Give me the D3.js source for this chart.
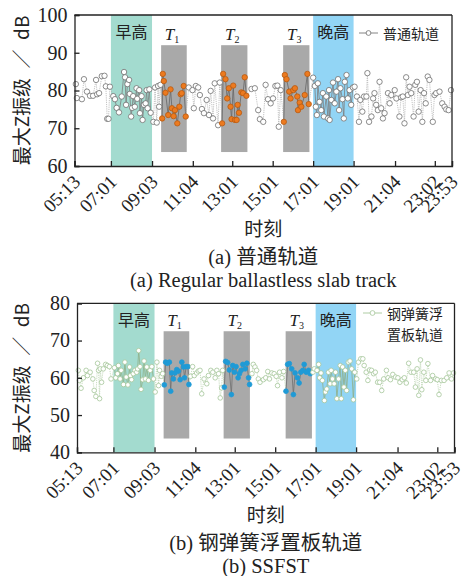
<!DOCTYPE html>
<html>
<head>
<meta charset="utf-8">
<script src="https://cdn.jsdelivr.net/npm/d3@7"></script>
<style>
  body { margin: 0; background: #fff; }
  svg text { font-family: "Liberation Serif", "Noto Sans CJK SC", serif; fill: #222; }
  .cjk { font-family: "Noto Sans CJK SC", sans-serif; }
</style>
</head>
<body>
<div id="chart"></div>
<script>
// tick labels on the time axis
var tickLabels = ["05:13", "07:01", "09:03", "11:04", "13:01", "15:01", "17:01", "19:01", "21:04", "23:02", "23:53"];

// rush hour bands and the three test windows (T1..T3)
var peakNames = ["早高", "晚高"];
var peakSpans = [["07:01", "09:03"], ["17:01", "19:01"]];
var windowNames = ["1", "2", "3"];
var windowSpans = [["09:30", "10:46"], ["12:28", "13:46"], ["15:32", "16:50"]];
var windowRangeA = [63.7, 92];
var windowRangeB = [43.7, 72.5];

// (a) regular slab track: minutes since midnight / max Z vibration level (dB)
var timesA = [317, 320, 335, 341, 350, 359, 368, 377, 380, 386, 394, 402, 406, 410, 414, 418,
  428, 433, 438, 445, 453, 460, 463, 466, 470, 475, 477, 481, 484, 487, 492, 497, 499, 505, 507, 512, 515, 519, 524, 527, 530, 535, 539,
  547, 552, 557, 561, 564, 568,
  573, 575, 578, 583, 591, 598, 602, 607, 611, 618, 624, 628, 631, 637, 643,
  652, 663, 667, 673, 680, 685, 691, 697, 705, 712, 717, 724, 729, 739, 744,
  751, 754, 761, 766, 771, 776, 779, 784, 789, 794, 797, 801, 808, 813, 818, 823,
  838, 848, 858, 863, 873, 880, 887, 895, 902, 909, 915, 919, 925,
  934, 937, 942, 950, 954, 962, 967, 974, 976, 981, 986, 996, 1004, 1008,
  1021, 1026, 1029, 1032, 1035, 1040, 1045, 1050, 1053, 1060, 1065, 1068, 1070, 1075, 1080, 1085, 1090, 1095, 1098, 1102, 1108, 1112, 1115, 1120, 1124, 1129, 1134, 1139,
  1144, 1151, 1157, 1161, 1167, 1172, 1179, 1182, 1187, 1194, 1199, 1203, 1208, 1213, 1218, 1223, 1228, 1233, 1243, 1248, 1253, 1263, 1268, 1277, 1282,
  1287, 1292, 1297, 1302, 1307, 1312, 1319, 1324, 1329, 1334, 1340, 1345, 1350, 1355, 1361, 1366, 1376, 1381, 1386, 1396, 1404, 1411, 1416, 1423, 1430];
var valuesA = [81.7, 78.0, 77.7, 83.0, 79.7, 78.6, 78.6, 82.8, 79.0, 79.3, 83.8, 83.9, 81.1, 72.5, 72.5, 81.0,
  78.5, 77.7, 75.4, 74.2, 78.4, 84.9, 83.5, 76.2, 81.7, 82.8, 79.1, 73.1, 75.4, 78.5, 75.7, 80.6, 77.8, 80.1, 74.0, 78.5, 72.2, 76.2, 76.6, 80.1, 75.3, 80.3, 74.1,
  71.7, 80.8, 71.5, 81.2, 75.7, 81.5,
  72.6, 84.4, 82.5, 79.4, 73.5, 80.3, 75.3, 73.2, 74.8, 71.3, 75.7, 79.0, 79.3, 81.2, 73.1,
  80.8, 80.1, 75.3, 81.2, 80.8, 78.8, 75.1, 74.0, 77.5, 73.5, 79.9, 72.6, 81.9, 70.8, 82.1,
  71.3, 84.4, 83.0, 77.9, 80.6, 75.7, 72.4, 81.3, 72.2, 72.2, 76.2, 74.1, 79.5, 79.3, 83.5, 78.6,
  80.4, 80.6, 74.8, 72.4, 71.7, 81.5, 77.7, 76.6, 77.9, 81.2, 81.3, 70.4, 80.1,
  71.7, 84.1, 83.0, 79.7, 77.9, 80.1, 80.6, 78.4, 74.8, 76.8, 75.7, 78.8, 84.4, 76.4,
  83.4, 81.2, 75.7, 73.5, 81.9, 77.0, 74.8, 79.3, 73.1, 78.4, 72.6, 80.1, 72.2, 77.5, 82.1, 76.6, 79.7, 83.0, 74.8, 80.6, 77.7, 72.6, 82.3, 84.1, 77.9, 80.1, 76.2, 80.8,
  81.0, 78.4, 71.7, 77.5, 74.4, 78.4, 78.4, 84.6, 71.7, 73.1, 77.9, 79.3, 76.2, 74.8, 82.3, 75.3, 72.6, 74.0, 79.3, 76.6, 78.8, 80.1, 77.9, 73.1, 78.2,
  78.4, 71.3, 83.5, 78.8, 81.0, 79.3, 73.1, 81.5, 82.3, 74.4, 80.1, 71.7, 79.3, 76.6, 83.7, 82.8, 71.7, 78.8, 79.3, 79.7, 76.6, 75.7, 75.0, 74.8, 80.1];

// (b) steel spring floating slab track
var timesB = [317, 320, 325, 332, 340, 344, 352, 360, 364, 369, 374, 377, 380, 382, 386, 391, 398, 403, 409, 414,
  424, 428, 433, 436, 441, 444, 451, 455, 459, 464, 469, 472, 475, 480, 485, 490, 493, 496, 500, 503, 508, 512, 516, 520, 525, 530, 535, 540,
  545, 550, 555, 558, 563, 567,
  572, 576, 581, 587, 591, 594, 599, 604, 609, 614, 619, 624, 629, 632, 637, 642, 645,
  650, 656, 661, 668, 673, 678, 683, 690, 698, 703, 710, 716, 723, 728, 733, 738, 742, 745,
  750, 754, 760, 765, 771, 775, 780, 785, 791, 795, 800, 805, 812, 817, 822, 825,
  832, 836, 841, 846, 851, 856, 866, 873, 879, 884, 891, 898, 904, 908, 914, 921, 926,
  933, 938, 943, 950, 955, 960, 967, 972, 977, 983, 987, 993, 1000, 1005,
  1013, 1017,
  1025, 1030, 1033, 1037, 1041, 1047, 1050, 1054, 1059, 1064, 1067, 1071, 1076, 1080, 1084, 1089, 1094, 1097, 1101, 1105, 1109, 1113, 1118, 1123, 1128, 1133, 1137,
  1143, 1148, 1155, 1161, 1165, 1171, 1176, 1181, 1187, 1193, 1198, 1205, 1211, 1217, 1223, 1231, 1236, 1243, 1250, 1258, 1265, 1271, 1278, 1284, 1290,
  1297, 1304, 1312, 1317, 1322, 1327, 1332, 1336, 1342, 1348, 1354, 1362, 1368, 1377, 1382, 1387, 1394, 1402, 1410, 1417, 1424, 1430];
var valuesB = [62.0, 59.3, 57.2, 60.0, 62.0, 60.6, 61.5, 59.7, 56.6, 55.0, 63.9, 62.0, 54.4, 62.4, 58.8, 62.4, 63.6, 63.3, 63.0, 59.7,
  62.7, 60.0, 61.1, 63.3, 59.7, 62.0, 58.2, 64.2, 60.2, 58.1, 62.9, 60.6, 59.5, 61.1, 62.0, 61.5, 62.4, 67.3, 63.0, 56.9, 59.5, 64.5, 59.7, 62.9, 59.3, 62.0, 63.0, 59.7,
  56.2, 64.2, 57.9, 62.0, 60.4, 61.1,
  58.1, 64.2, 63.9, 64.2, 56.4, 61.3, 59.7, 61.3, 62.2, 61.8, 59.5, 64.2, 62.9, 60.0, 63.0, 63.0, 58.2,
  60.4, 63.0, 60.6, 61.3, 61.8, 62.0, 55.7, 59.7, 58.4, 60.6, 62.0, 61.5, 60.0, 62.0, 61.1, 54.6, 57.3, 62.0,
  57.5, 64.4, 64.1, 62.1, 55.5, 63.3, 61.5, 63.0, 60.0, 61.1, 62.0, 63.6, 62.4, 63.9, 60.0, 58.2,
  61.1, 63.6, 62.9, 62.0, 59.7, 58.8, 59.5, 60.0, 61.7, 59.7, 61.3, 61.1, 60.4, 57.9, 61.5, 60.0, 61.7,
  56.4, 63.6, 63.8, 62.4, 55.5, 61.3, 60.0, 58.6, 61.5, 62.0, 63.6, 61.5, 62.0, 61.1,
  61.5, 62.4,
  62.0, 63.6, 60.0, 61.3, 59.3, 53.9, 56.2, 57.0, 61.5, 58.4, 62.0, 59.7, 58.4, 61.5, 54.4, 59.7, 63.3, 54.4, 62.9, 57.5, 62.0, 56.6, 64.2, 64.5, 62.4, 54.1, 61.5,
  59.7, 64.2, 65.1, 65.1, 63.3, 61.5, 59.3, 62.1, 62.0, 61.1, 61.5, 58.8, 58.8, 56.6, 59.7, 62.0, 60.0, 59.5, 60.9, 60.2, 60.0, 58.8, 59.5, 60.0, 58.6,
  63.9, 61.5, 61.5, 57.5, 62.4, 55.3, 64.8, 56.8, 61.5, 59.3, 63.8, 59.3, 60.6, 59.7, 59.5, 55.5, 59.3, 59.3, 60.0, 61.3, 59.7, 61.3];

function toMin(s) {
  var p = s.split(":");
  return +p[0] * 60 + +p[1];
}

var w = 474, h = 576;
var svg = d3.select("#chart").append("svg").attr("width", w).attr("height", h);

function drawPanel(cfg) {
  var x = d3.scaleLinear().domain([toMin(tickLabels[0]), toMin(tickLabels[tickLabels.length - 1])])
    .range([cfg.left, cfg.right]);
  var y = d3.scaleLinear().domain(cfg.yDomain).range([cfg.bottom, cfg.top]);
  var g = svg.append("g");

  // rush hour bands
  g.selectAll("rect.peak").data(peakSpans).enter().append("rect")
    .attr("x", function(d) { return x(toMin(d[0])); })
    .attr("y", cfg.top)
    .attr("width", function(d) { return x(toMin(d[1])) - x(toMin(d[0])); })
    .attr("height", cfg.bottom - cfg.top)
    .attr("fill", function(d, i) { return i == 0 ? "#a3dbcf" : "#92d5f5"; });

  // test windows
  g.selectAll("rect.win").data(windowSpans).enter().append("rect")
    .attr("x", function(d) { return x(toMin(d[0])); })
    .attr("y", y(cfg.winRange[1]))
    .attr("width", function(d) { return x(toMin(d[1])) - x(toMin(d[0])); })
    .attr("height", y(cfg.winRange[0]) - y(cfg.winRange[1]))
    .attr("fill", "#a9a9a9");

  var pts = cfg.times.map(function(t, i) {
    var inPeak = peakSpans.some(function(s) { return t >= toMin(s[0]) && t <= toMin(s[1]); });
    var inWin = windowSpans.some(function(s) { return t >= toMin(s[0]) && t <= toMin(s[1]); });
    return { t: t, v: cfg.values[i], peak: inPeak, win: inWin };
  });

  var segs = d3.pairs(pts);
  g.selectAll("line.seg").data(segs).enter().append("line")
    .attr("x1", function(d) { return x(d[0].t); })
    .attr("y1", function(d) { return y(d[0].v); })
    .attr("x2", function(d) { return x(d[1].t); })
    .attr("y2", function(d) { return y(d[1].v); })
    .attr("stroke", function(d) {
      if (d[0].win && d[1].win) return cfg.winLine;
      if (d[0].peak && d[1].peak) return cfg.peakLine;
      return cfg.line;
    })
    .attr("stroke-width", 0.8)
    .attr("stroke-dasharray", function(d) {
      return (d[0].win && d[1].win) || (d[0].peak && d[1].peak) ? null : "1.2,1";
    });

  g.selectAll("circle.pt").data(pts).enter().append("circle")
    .attr("cx", function(d) { return x(d.t); })
    .attr("cy", function(d) { return y(d.v); })
    .attr("r", function(d) { return d.win ? cfg.rWin : cfg.r; })
    .attr("fill", function(d) { return d.win ? cfg.winFill : "#fff"; })
    .attr("stroke", function(d) { return d.win ? cfg.winStroke : cfg.stroke; })
    .attr("stroke-width", 0.8);

  // band labels
  g.selectAll("text.peak").data(peakNames).enter().append("text")
    .attr("class", "cjk")
    .attr("x", function(d, i) { return (x(toMin(peakSpans[i][0])) + x(toMin(peakSpans[i][1]))) / 2; })
    .attr("y", cfg.top + 23)
    .attr("text-anchor", "middle")
    .attr("font-size", "16px")
    .text(function(d) { return d; });

  var tl = g.selectAll("text.win").data(windowNames).enter().append("text")
    .attr("x", function(d, i) { return (x(toMin(windowSpans[i][0])) + x(toMin(windowSpans[i][1]))) / 2 - 2; })
    .attr("y", y(cfg.winRange[1]) - 5)
    .attr("text-anchor", "middle")
    .attr("font-size", "17px");
  tl.append("tspan").attr("font-style", "italic").text("T");
  tl.append("tspan").attr("font-size", "10px").attr("dy", 3).text(function(d) { return d; });

  // axes, ticks inward
  var xAxis = d3.axisBottom(x).tickValues(tickLabels.map(toMin)).tickSize(-5).tickFormat("");
  g.append("g").attr("transform", "translate(0," + cfg.bottom + ")").call(xAxis);
  var yAxis = d3.axisLeft(y).tickValues(cfg.yTicks).tickSize(-5).tickPadding(7).tickFormat(d3.format("d"));
  g.append("g").attr("transform", "translate(" + cfg.left + ",0)").call(yAxis);
  g.selectAll(".domain, .tick line").attr("stroke", "#222").attr("stroke-width", 1.3);
  g.selectAll(".tick text").attr("font-size", "20px").attr("fill", "#222");
  g.append("line").attr("x1", cfg.left).attr("x2", cfg.right).attr("y1", cfg.top).attr("y2", cfg.top)
    .attr("stroke", "#222").attr("stroke-width", 1.3);
  g.append("line").attr("x1", cfg.right).attr("x2", cfg.right).attr("y1", cfg.top).attr("y2", cfg.bottom)
    .attr("stroke", "#222").attr("stroke-width", 1.3);

  g.selectAll("text.xt").data(tickLabels).enter().append("text")
    .attr("transform", function(d) { return "translate(" + (x(toMin(d)) + 7) + "," + (cfg.bottom + 17) + ") rotate(-45)"; })
    .attr("text-anchor", "end")
    .attr("font-size", "19px")
    .text(function(d) { return d; });

  // y title
  g.append("text")
    .attr("transform", "translate(29," + (cfg.top + cfg.bottom) / 2 + ") rotate(-90)")
    .attr("text-anchor", "middle")
    .attr("font-size", "19px")
    .attr("class", "cjk")
    .text("最大Z振级\u2002／\u2002dB");

  // legend
  var lg = g.append("g");
  lg.append("line").attr("x1", cfg.legX).attr("x2", cfg.legX + 19).attr("y1", cfg.legY).attr("y2", cfg.legY)
    .attr("stroke", cfg.legLine).attr("stroke-width", 0.9);
  lg.append("circle").attr("cx", cfg.legX + 9.5).attr("cy", cfg.legY).attr("r", 2.4)
    .attr("fill", "#fff").attr("stroke", cfg.stroke).attr("stroke-width", 0.8);
  cfg.legText.forEach(function(s, i) {
    lg.append("text").attr("class", "cjk").attr("x", cfg.legX + 24).attr("y", cfg.legY + 6 + i * 20.5)
      .attr("font-size", "14px").text(s);
  });

  // captions
  var cx = (cfg.left + cfg.right) / 2;
  g.append("text").attr("class", "cjk").attr("x", cx).attr("y", cfg.bottom + 70)
    .attr("text-anchor", "middle").attr("font-size", "19px").text("时刻");
  cfg.captions.forEach(function(s, i) {
    g.append("text").attr("x", cx).attr("y", cfg.bottom + 98 + i * 23)
      .attr("text-anchor", "middle").attr("font-size", "20.5px").text(s);
  });
}

drawPanel({
  left: 74.5, right: 452, top: 15, bottom: 166,
  yDomain: [60, 100], yTicks: [60, 70, 80, 90, 100],
  times: timesA, values: valuesA, winRange: windowRangeA,
  r: 2.7, rWin: 2.7, stroke: "#6e6e6e", winFill: "#ec7a1f", winStroke: "#b85a12",
  line: "#b3b3b3", peakLine: "#7d7d7d", winLine: "#666",
  legX: 359, legY: 33, legLine: "#777", legText: ["普通轨道"],
  captions: ["(a)  普通轨道", "(a)  Regular ballastless slab track"]
});

drawPanel({
  left: 77, right: 454.5, top: 303.3, bottom: 452.3,
  yDomain: [40, 80], yTicks: [40, 50, 60, 70, 80],
  times: timesB, values: valuesB, winRange: windowRangeB,
  r: 2.3, rWin: 2.4, stroke: "#a6c79a", winFill: "#1f9ad6", winStroke: "#1f9ad6",
  line: "#b9d3ae", peakLine: "#8fae86", winLine: "#6f6f6f",
  legX: 363, legY: 313, legLine: "#a6c79a", legText: ["钢弹簧浮", "置板轨道"],
  captions: ["(b)  钢弹簧浮置板轨道", "(b)  SSFST"]
});
</script>
</body>
</html>
